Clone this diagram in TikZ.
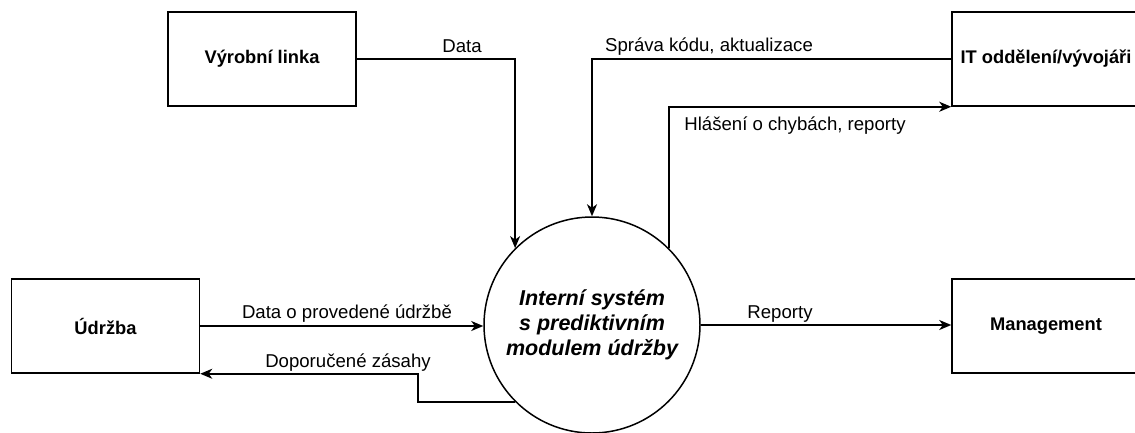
\documentclass[tikz,border=0pt]{standalone}
\usepackage{fontspec}
\setmainfont{Liberation Sans}
\usetikzlibrary{arrows.meta,calc}
\begin{document}
\begin{tikzpicture}[x=1pt,y=-1pt,line width=1.5pt,
  box/.style={draw,rectangle,minimum width=188pt,minimum height=94pt,inner sep=0pt,
    font=\fontsize{18.3}{21}\selectfont\bfseries},
  proc/.style={draw,circle,minimum size=216pt,inner sep=0pt,align=center,
    font=\fontsize{21.5}{25}\selectfont\bfseries\itshape},
  flow/.style={-{Stealth[length=12pt,width=10pt,inset=3.5pt]}},
  lbl/.style={font=\fontsize{18.6}{21}\selectfont,inner sep=0pt,anchor=base}]
\fill[white] (0,0) rectangle (1135,432);
\useasboundingbox (0,0) rectangle (1135,432);

\node[box] (vyr) at (262,59) {Výrobní linka};
\node[box] (it) at (1046,59) {IT oddělení/vývojáři};
\node[box] (udr) at (105.5,326) {Údržba};
\node[box] (mgmt) at (1046,326) {Management};
\node[proc] (sys) at (592,325) {Interní systém\\s prediktivním\\modulem údržby};

\coordinate (bend) at (418,0);

\draw[flow] (vyr.east) -| (sys.north west);
\draw[flow] (it.west) -| (sys.north);
\draw[flow] (sys.north east) |- (it.south west);
\draw[flow] (udr.east) -- (udr.east -| sys.west);
\draw[flow] (sys.east) -- (sys.east -| mgmt.west);
\draw[flow] (sys.south west) -- (sys.south west -| bend) |- (udr.south east);

\node[lbl] (l1) at (462,52) {Data};
\node[lbl] (l2) at (709,51) {Správa kódu, aktualizace};
\node[lbl] (l3) at (795,130) {Hlášení o chybách, reporty};
\node[lbl] (l4) at (347,318) {Data o provedené údržbě};
\node[lbl] (l5) at (348,367) {Doporučené zásahy};
\node[lbl] (l6) at (780,318) {Reporty};
\end{tikzpicture}
\end{document}
